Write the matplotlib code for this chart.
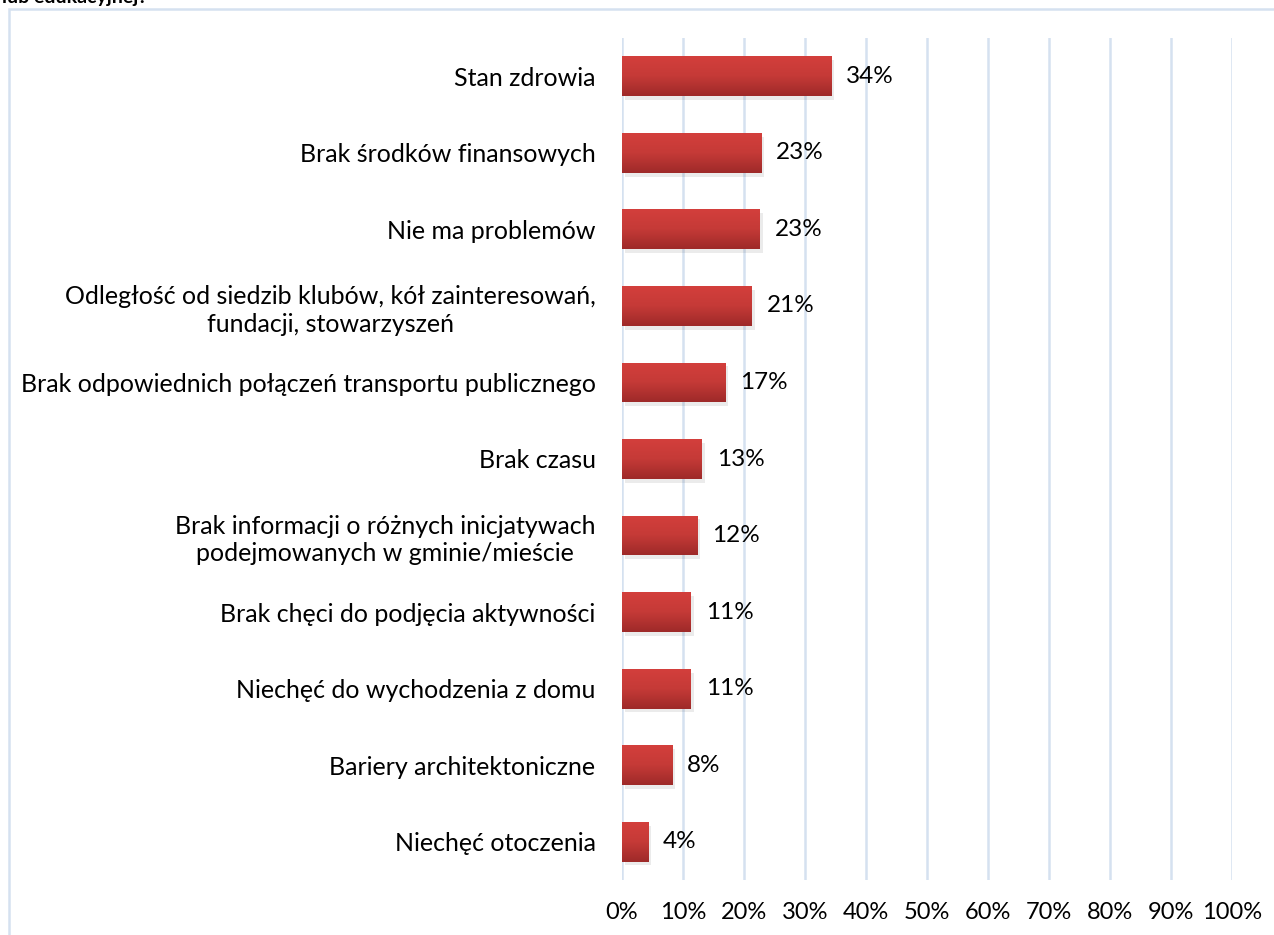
import matplotlib.pyplot as plt
import matplotlib.patches as patches
from matplotlib.colors import LinearSegmentedColormap
import numpy as np

# Data
categories = [
    "Stan zdrowia",
    "Brak środków finansowych",
    "Nie ma problemów",
    "Odległość od siedzib klubów, kół zainteresowań,\nfundacji, stowarzyszeń",
    "Brak odpowiednich połączeń transportu publicznego",
    "Brak czasu",
    "Brak informacji o różnych inicjatywach\npodejmowanych w gminie/mieście",
    "Brak chęci do podjęcia aktywności",
    "Niechęć do wychodzenia z domu",
    "Bariery architektoniczne",
    "Niechęć otoczenia",
]
values = [34.3, 22.8, 22.6, 21.3, 16.9, 13.1, 12.3, 11.3, 11.3, 8.2, 4.3]
labels = ["34%", "23%", "23%", "21%", "17%", "13%", "12%", "11%", "11%", "8%", "4%"]
xticks = list(range(0, 101, 10))

plt.rcParams["font.family"] = ["Lato", "DejaVu Sans"]

W, H = 1274, 935
fig = plt.figure(figsize=(W / 100, H / 100), dpi=100)

# Cut-off title fragment at the top (as in the source)
fig.text(2 / W, 1 - 3 / H, "lub edukacyjnej?", fontsize=14, fontweight="bold",
         va="baseline", ha="left", color="black")

# Chart frame (extends past the right and bottom edges)
frame = patches.Rectangle((9 / W, -0.05), 1.1, 1 - 9 / H + 0.05,
                          transform=fig.transFigure, fill=False,
                          edgecolor="#d5e1f0", linewidth=1.8, zorder=0)
fig.patches.append(frame)

ax = fig.add_axes([622 / W, 1 - 880 / H, (1232 - 622) / W, (880 - 38) / H])
ax.set_xlim(0, 100)
ax.set_ylim(len(categories) - 0.5, -0.5)

y = np.arange(len(categories))
bar_h = 0.52

# Gradient fill for bars
grad = np.linspace(0, 1, 64).reshape(-1, 1)
cmap = LinearSegmentedColormap.from_list("redgrad", ["#d33f3c", "#c53a37", "#9e2a29"])

for yi, v in zip(y, values):
    # soft shadow
    sh = patches.Rectangle((0.5, yi - bar_h / 2 + 0.05), v, bar_h,
                           facecolor="#000000", alpha=0.08, edgecolor="none", zorder=2)
    ax.add_patch(sh)
    bar = ax.barh(yi, v, height=bar_h, color="#c23a37", edgecolor="none", zorder=3)[0]
    im = ax.imshow(grad, extent=[0, v, yi + bar_h / 2, yi - bar_h / 2],
                   cmap=cmap, aspect="auto", zorder=4)
    im.set_clip_path(bar)

for yi, v, lab in zip(y, values, labels):
    ax.text(v + 2.4, yi, lab, va="center", ha="left", fontsize=17.5, color="black", zorder=5)

ax.set_xticks(xticks)
ax.set_xticklabels([f"{t}%" for t in xticks], fontsize=17)
ax.set_yticks(y)
ax.set_yticklabels(categories, fontsize=18, linespacing=1.25, multialignment="center")
ax.tick_params(axis="y", length=0, pad=19)
ax.tick_params(axis="x", length=0, pad=16)
ax.grid(axis="x", color="#d5e1f0", linewidth=1.8, zorder=0)
ax.set_axisbelow(True)
for s in ax.spines.values():
    s.set_visible(False)

fig.savefig("out.png", dpi=100)
